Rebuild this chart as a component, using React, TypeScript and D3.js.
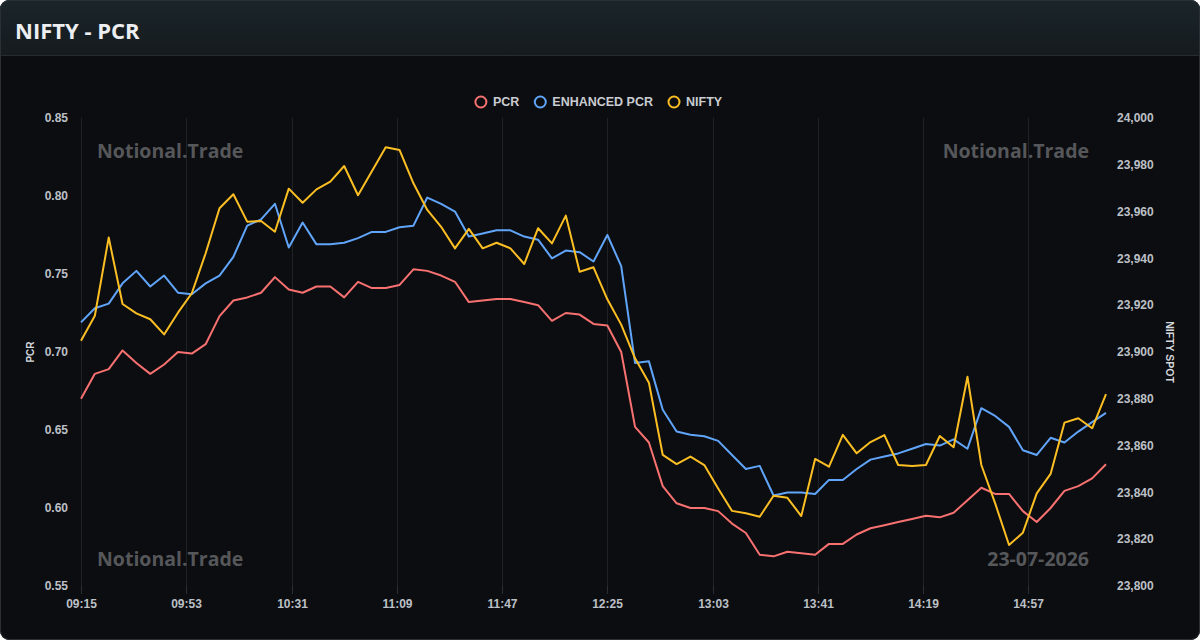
import { useEffect, useRef } from "react";
import * as d3 from "d3";

// 5-minute samples for the session
const times = [
  "09:15", "09:20", "09:25", "09:30", "09:35", "09:40", "09:45", "09:50", "09:55",
  "10:00", "10:05", "10:10", "10:15", "10:20", "10:25", "10:30", "10:35", "10:40", "10:45", "10:50", "10:55",
  "11:00", "11:05", "11:10", "11:15", "11:20", "11:25", "11:30", "11:35", "11:40", "11:45", "11:50", "11:55",
  "12:00", "12:05", "12:10", "12:15", "12:20", "12:25", "12:30", "12:35", "12:40", "12:45", "12:50", "12:55",
  "13:00", "13:05", "13:10", "13:15", "13:20", "13:25", "13:30", "13:35", "13:40", "13:45", "13:50", "13:55",
  "14:00", "14:05", "14:10", "14:15", "14:20", "14:25", "14:30", "14:35", "14:40", "14:45", "14:50", "14:55",
  "15:00", "15:05", "15:10", "15:15", "15:20", "15:25",
];

const pcr = [
  0.670, 0.686, 0.689, 0.701, 0.693, 0.686, 0.692, 0.700, 0.699, 0.705,
  0.723, 0.733, 0.735, 0.738, 0.748, 0.740, 0.738, 0.742, 0.742, 0.735,
  0.745, 0.741, 0.741, 0.743, 0.753, 0.752, 0.749, 0.745, 0.732, 0.733,
  0.734, 0.734, 0.732, 0.730, 0.720, 0.725, 0.724, 0.718, 0.717, 0.700,
  0.652, 0.642, 0.614, 0.603, 0.600, 0.600, 0.598, 0.590, 0.584, 0.570,
  0.569, 0.572, 0.571, 0.570, 0.577, 0.577, 0.583, 0.587, 0.589, 0.591,
  0.593, 0.595, 0.594, 0.597, 0.605, 0.613, 0.609, 0.609, 0.598, 0.591,
  0.600, 0.611, 0.614, 0.619, 0.628,
];

const enhancedPcr = [
  0.719, 0.728, 0.731, 0.744, 0.752, 0.742, 0.749, 0.738, 0.737, 0.744,
  0.749, 0.761, 0.781, 0.785, 0.795, 0.767, 0.783, 0.769, 0.769, 0.770,
  0.773, 0.777, 0.777, 0.780, 0.781, 0.799, 0.795, 0.790, 0.774, 0.776,
  0.778, 0.778, 0.774, 0.772, 0.760, 0.765, 0.764, 0.758, 0.775, 0.755,
  0.693, 0.694, 0.663, 0.649, 0.647, 0.646, 0.643, 0.634, 0.625, 0.627,
  0.608, 0.610, 0.610, 0.609, 0.618, 0.618, 0.625, 0.631, 0.633, 0.635,
  0.638, 0.641, 0.640, 0.644, 0.638, 0.664, 0.659, 0.652, 0.637, 0.634,
  0.645, 0.642, 0.649, 0.655, 0.661,
];

const nifty = [
  23904.8, 23915.5, 23948.9, 23920.5, 23916.5, 23914.0, 23907.5, 23916.8, 23925.1, 23942.2,
  23961.4, 23967.4, 23955.7, 23956.0, 23951.4, 23969.8, 23963.8, 23969.5, 23972.8, 23979.5,
  23967.0, 23977.2, 23987.5, 23986.3, 23972.1, 23960.7, 23953.5, 23944.3, 23952.6, 23944.3,
  23946.7, 23944.3, 23937.6, 23952.9, 23946.4, 23958.3, 23934.3, 23936.2, 23922.5, 23911.7,
  23897.3, 23886.9, 23856.0, 23852.1, 23855.3, 23851.7, 23841.7, 23832.1, 23831.1, 23829.6,
  23838.6, 23837.7, 23829.9, 23854.3, 23851.0, 23864.6, 23856.7, 23861.5, 23864.5, 23851.7,
  23851.3, 23851.7, 23864.1, 23859.3, 23889.4, 23851.7, 23835.3, 23817.5, 23822.8, 23839.6,
  23847.9, 23869.8, 23871.7, 23867.4, 23882.0,
];

const xTickLabels = ["09:15", "09:53", "10:31", "11:09", "11:47", "12:25", "13:03", "13:41", "14:19", "14:57"];
const pcrTicks = [0.55, 0.6, 0.65, 0.7, 0.75, 0.8, 0.85];
const niftyTicks = [23800, 23820, 23840, 23860, 23880, 23900, 23920, 23940, 23960, 23980, 24000];

const legendNames = ["PCR", "ENHANCED PCR", "NIFTY"];
const seriesColors = ["#f87171", "#60a5fa", "#fbbf24"];

const W = 1200;
const H = 640;
const AXIS_FONT = "'Liberation Sans', Arial, sans-serif";
const BRAND_FONT = "'Open Sans', 'Noto Sans', sans-serif";

const toMinutes = (t: string) => {
  const [h, m] = t.split(":").map(Number);
  return h * 60 + m - (9 * 60 + 15);
};

export default function App() {
  const svgRef = useRef<SVGSVGElement>(null);

  useEffect(() => {
    const svg = d3.select(svgRef.current);
    svg.selectAll("*").remove();

    const margin = { top: 118, right: 94, bottom: 54, left: 81 };
    const x = d3
      .scaleLinear()
      .domain([0, toMinutes(times[times.length - 1])])
      .range([margin.left, W - margin.right]);
    const yLeft = d3.scaleLinear().domain([0.55, 0.85]).range([H - margin.bottom, margin.top]);
    const yRight = d3.scaleLinear().domain([23800, 24000]).range([H - margin.bottom, margin.top]);

    // card + header
    const defs = svg.append("defs");
    const grad = defs
      .append("linearGradient")
      .attr("id", "hdr")
      .attr("x1", 0)
      .attr("y1", 0)
      .attr("x2", 0)
      .attr("y2", 1);
    grad.append("stop").attr("offset", "0%").attr("stop-color", "#1a252a");
    grad.append("stop").attr("offset", "100%").attr("stop-color", "#161b1f");
    defs
      .append("clipPath")
      .attr("id", "card")
      .append("rect")
      .attr("width", W)
      .attr("height", H)
      .attr("rx", 9);

    const card = svg.append("g").attr("clip-path", "url(#card)");
    card.append("rect").attr("width", W).attr("height", H).attr("fill", "#0c0d10");
    card.append("rect").attr("width", W).attr("height", 55).attr("fill", "url(#hdr)");
    card
      .append("line")
      .attr("x1", 0)
      .attr("x2", W)
      .attr("y1", 55.5)
      .attr("y2", 55.5)
      .attr("stroke", "#262c31");
    svg
      .append("rect")
      .attr("x", 0.5)
      .attr("y", 0.5)
      .attr("width", W - 1)
      .attr("height", H - 1)
      .attr("rx", 9)
      .attr("fill", "none")
      .attr("stroke", "#2a3036");

    svg
      .append("text")
      .attr("x", 15)
      .attr("y", 39)
      .attr("fill", "#eceef1")
      .attr("font-family", BRAND_FONT)
      .attr("font-weight", 700)
      .attr("font-size", 22)
      .text("NIFTY - PCR");

    // vertical grid + ticks
    const g = svg.append("g");
    xTickLabels.forEach((t) => {
      const px = Math.round(x(toMinutes(t))) + 0.5;
      g.append("line")
        .attr("x1", px)
        .attr("x2", px)
        .attr("y1", margin.top)
        .attr("y2", H - margin.bottom)
        .attr("stroke", "#1f2227");
      g.append("line")
        .attr("x1", px)
        .attr("x2", px)
        .attr("y1", H - margin.bottom)
        .attr("y2", H - margin.bottom + 8)
        .attr("stroke", "#2b2e34");
      g.append("text")
        .attr("x", px)
        .attr("y", 608)
        .attr("text-anchor", "middle")
        .attr("fill", "#bcc0c7")
        .attr("font-family", AXIS_FONT)
        .attr("font-weight", 700)
        .attr("font-size", 12)
        .text(t);
    });

    // left axis
    pcrTicks.forEach((v) => {
      g.append("text")
        .attr("x", 68)
        .attr("y", yLeft(v))
        .attr("dy", "0.35em")
        .attr("text-anchor", "end")
        .attr("fill", "#bcc0c7")
        .attr("font-family", AXIS_FONT)
        .attr("font-weight", 700)
        .attr("font-size", 12)
        .text(d3.format(".2f")(v));
    });
    g.append("text")
      .attr("transform", `translate(34,${(margin.top + H - margin.bottom) / 2}) rotate(-90)`)
      .attr("text-anchor", "middle")
      .attr("fill", "#d4d7dc")
      .attr("font-family", AXIS_FONT)
      .attr("font-weight", 700)
      .attr("font-size", 10)
      .text("PCR");

    // right axis
    niftyTicks.forEach((v) => {
      g.append("text")
        .attr("x", 1117)
        .attr("y", yRight(v))
        .attr("dy", "0.35em")
        .attr("fill", "#bcc0c7")
        .attr("font-family", AXIS_FONT)
        .attr("font-weight", 700)
        .attr("font-size", 12)
        .text(d3.format(",")(v));
    });
    g.append("text")
      .attr("transform", `translate(1166,${(margin.top + H - margin.bottom) / 2}) rotate(90)`)
      .attr("text-anchor", "middle")
      .attr("fill", "#d4d7dc")
      .attr("font-family", AXIS_FONT)
      .attr("font-weight", 700)
      .attr("font-size", 10.5)
      .text("NIFTY SPOT");

    // watermarks
    const marks: [string, number, number, string][] = [
      ["Notional.Trade", margin.left + 16, margin.top + 40, "start"],
      ["Notional.Trade", W - margin.right - 17, margin.top + 40, "end"],
      ["Notional.Trade", margin.left + 16, H - margin.bottom - 20, "start"],
      ["23-07-2026", W - margin.right - 17, H - margin.bottom - 20, "end"],
    ];
    marks.forEach(([txt, mx, my, anchor]) => {
      g.append("text")
        .attr("x", mx)
        .attr("y", my)
        .attr("text-anchor", anchor)
        .attr("fill", "#56575a")
        .attr("font-family", BRAND_FONT)
        .attr("font-weight", 700)
        .attr("font-size", 19.5)
        .text(txt);
    });

    // series lines
    const series = [
      { values: pcr, y: yLeft },
      { values: enhancedPcr, y: yLeft },
      { values: nifty, y: yRight },
    ];
    series.forEach((s, si) => {
      const line = d3
        .line<number>()
        .x((_, i) => x(toMinutes(times[i])))
        .y((d) => s.y(d));
      g.append("path")
        .datum(s.values)
        .attr("fill", "none")
        .attr("stroke", seriesColors[si])
        .attr("stroke-width", 2)
        .attr("stroke-linejoin", "round")
        .attr("d", line);
    });

    // legend, centered above the plot
    const legend = svg.append("g");
    const gap = 15;
    let cursor = 0;
    legendNames.forEach((name, i) => {
      const item = legend.append("g");
      item
        .append("circle")
        .attr("cx", 6)
        .attr("cy", 0)
        .attr("r", 5.5)
        .attr("fill", "none")
        .attr("stroke", seriesColors[i])
        .attr("stroke-width", 2);
      const label = item
        .append("text")
        .attr("x", 18)
        .attr("dy", "0.35em")
        .attr("fill", "#c9ccd2")
        .attr("font-family", AXIS_FONT)
        .attr("font-weight", 700)
        .attr("font-size", 12.5)
        .text(name);
      const w = 18 + (label.node() as SVGTextElement).getComputedTextLength();
      item.attr("transform", `translate(${cursor},102)`);
      cursor += w + gap;
    });
    const total = cursor - gap;
    legend.attr("transform", `translate(${598.5 - total / 2},0)`);
  }, []);

  return (
    <div style={{ position: "fixed", left: 0, top: 0, width: W, height: H, background: "#ffffff" }}>
      <svg ref={svgRef} width={W} height={H} style={{ display: "block" }} />
    </div>
  );
}
